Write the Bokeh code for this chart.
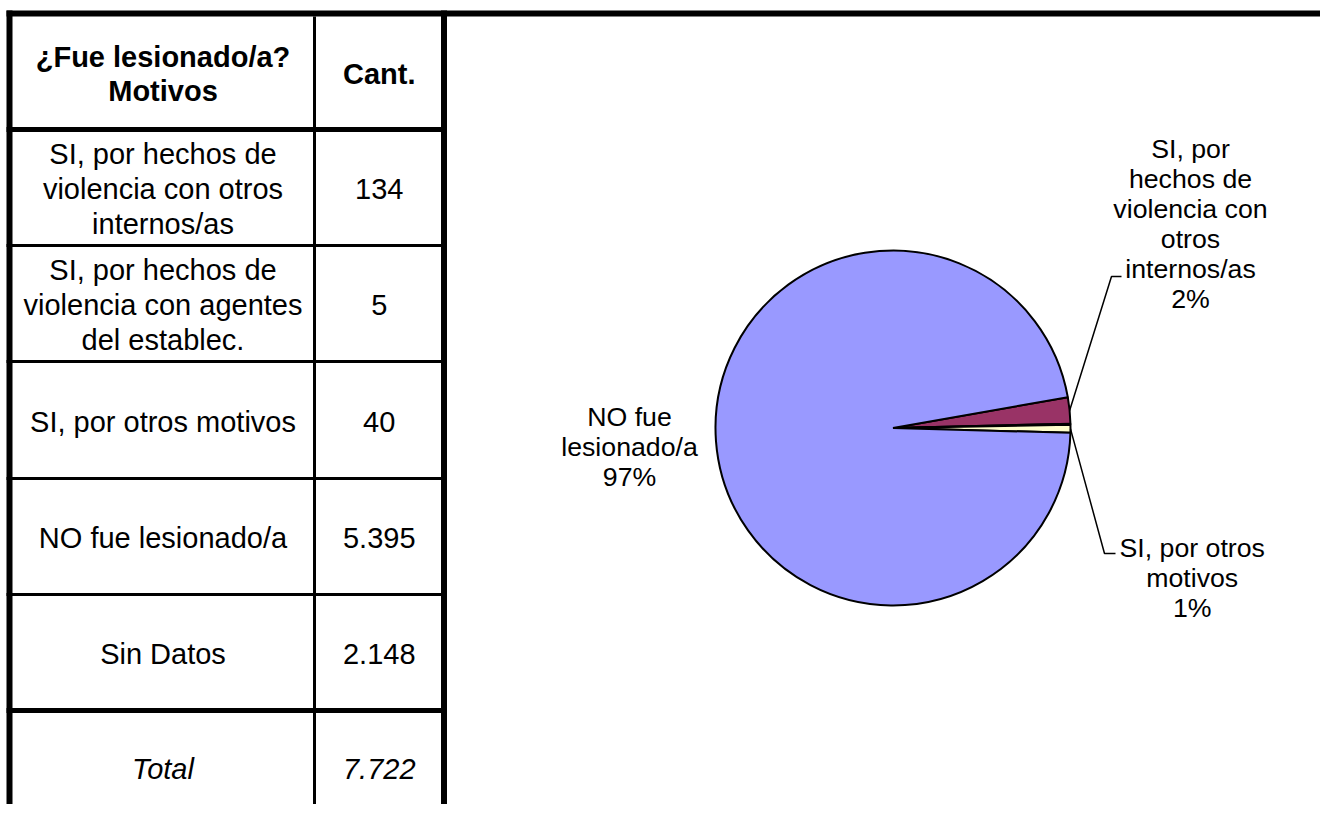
import math
from bokeh.plotting import figure
from bokeh.models import Range1d, ColumnDataSource
from bokeh.core.properties import value
from bokeh.embed import file_html
from bokeh.resources import INLINE

# ---------------- data ----------------
header_labels = [["¿Fue lesionado/a?", "Motivos"], ["Cant."]]
row_labels = [
    ["SI, por hechos de", "violencia con otros", "internos/as"],
    ["SI, por hechos de", "violencia con agentes", "del establec."],
    ["SI, por otros motivos"],
    ["NO fue lesionado/a"],
    ["Sin Datos"],
]
counts = [134, 5, 40, 5395, 2148]
total_label = "Total"

# pie: the four "SI"/"NO" categories (Sin Datos excluded), clockwise order
pie_index = [0, 1, 2, 3]
pie_colors = ["#993366", "#CCFFFF", "#FFFFCC", "#9999FF"]
pie_labels = [
    ["SI, por", "hechos de", "violencia con", "otros", "internos/as"],
    None,
    ["SI, por otros", "motivos"],
    ["NO fue", "lesionado/a"],
]

def fmt(n):
    return f"{n:,}".replace(",", ".")

FONT = value("Liberation Sans")

# ---------------- figure (1 data unit = 1 px, y = -screen y) ----------------
W, H = 1320, 804
p = figure(width=W, height=H, x_range=Range1d(0, W), y_range=Range1d(-H, 0),
           output_backend="svg", toolbar_location=None, min_border=0)
p.axis.visible = False
p.grid.visible = False
p.outline_line_color = None
p.background_fill_color = "white"
p.border_fill_color = "white"

# ---------------- table ----------------
col_x = [9, 314, 443.5]           # left border, divider, right border
row_edges = [13, 129, 245, 361, 478, 594, 710, 830]
edge_w = [6, 5, 3, 3, 3, 3, 5, 0]

# horizontal rules
for y, w in zip(row_edges, edge_w):
    if w == 0:
        continue
    x1 = 1340 if y == row_edges[0] else col_x[2]
    p.segment(x0=[col_x[0] - 3], y0=[-y], x1=[x1], y1=[-y], line_color="black", line_width=w)
# vertical rules
p.segment(x0=[col_x[0]], y0=[-10], x1=[col_x[0]], y1=[-830], line_color="black", line_width=6)
p.segment(x0=[col_x[1]], y0=[-16], x1=[col_x[1]], y1=[-830], line_color="black", line_width=3)
p.segment(x0=[col_x[2]], y0=[-10], x1=[col_x[2]], y1=[-830], line_color="black", line_width=6)

c1 = (col_x[0] + col_x[1]) / 2 + 1
c2 = (col_x[1] + col_x[2]) / 2
LS = 35

def cell_lines(lines, xc, yc, spacing):
    n = len(lines)
    xs, ys = [], []
    for k in range(n):
        xs.append(xc)
        ys.append(-(yc + (k - (n - 1) / 2) * spacing))
    return xs, ys

def add_text(xs, ys, texts, size, style="normal"):
    src = ColumnDataSource(dict(x=xs, y=ys, t=texts))
    p.text(x="x", y="y", text="t", source=src, text_font=FONT, text_font_size=size,
           text_font_style=style, text_align="center", text_baseline="middle", text_color="black")

# header
hy = (row_edges[0] + row_edges[1]) / 2 + 2
xs, ys = cell_lines(header_labels[0], c1, hy, 34)
add_text(xs, ys, header_labels[0], "29px", "bold")
xs, ys = cell_lines(header_labels[1], c2, hy, 34)
add_text(xs, ys, header_labels[1], "29px", "bold")

# body rows
bx, by, bt = [], [], []
for i, lines in enumerate(row_labels):
    yc = (row_edges[i + 1] + row_edges[i + 2]) / 2 + 1.5
    xs, ys = cell_lines(lines, c1, yc, LS)
    bx += xs; by += ys; bt += lines
    bx.append(c2); by.append(-yc); bt.append(fmt(counts[i]))
add_text(bx, by, bt, "29px")

# total row
ty = 768
add_text([c1, c2], [-ty, -ty], [total_label, fmt(sum(counts))], "29px", "italic")

# ---------------- pie ----------------
cx, cy, R = 892.5, 427.5, 177.5
start_deg = 10.0
vals = [counts[i] for i in pie_index]
tot = sum(vals)
top_angles, bot_angles = [], []
cum = 0.0
for v in vals:
    a_top = start_deg - cum / tot * 360
    cum += v
    a_bot = start_deg - cum / tot * 360
    top_angles.append(math.radians(a_top))
    bot_angles.append(math.radians(a_bot))

psrc = ColumnDataSource(dict(x=[cx] * len(vals), y=[-cy] * len(vals),
                             s=bot_angles, e=top_angles, c=pie_colors))
p.wedge(x="x", y="y", radius=R, start_angle="s", end_angle="e", fill_color="c",
        line_color="black", line_width=2, source=psrc)

# labels
label_anchor = {0: (1190, 148.5), 2: (1191.7, 547), 3: (629, 416.5)}
leader_elbow = {0: ((1111, 276), (1121, 276)), 2: ((1104, 553), (1115, 553))}
PLS = 30
for i, lines in enumerate(pie_labels):
    if lines is None:
        continue
    pct = round(vals[i] / tot * 100)
    texts = lines + [f"{pct}%"]
    ax, ay = label_anchor[i]
    xs = [ax] * len(texts)
    ys = [-(ay + k * PLS) for k in range(len(texts))]
    add_text(xs, ys, texts, "26.7px")
    if i in leader_elbow:
        mid = (top_angles[i] + bot_angles[i]) / 2
        sx = cx + R * math.cos(mid)
        sy = cy - R * math.sin(mid)
        (ex1, ey1), (ex2, ey2) = leader_elbow[i]
        p.line(x=[sx, ex1, ex2], y=[-sy, -ey1, -ey2], line_color="black", line_width=1.5)

open("out.html", "w").write(file_html(p, INLINE))
